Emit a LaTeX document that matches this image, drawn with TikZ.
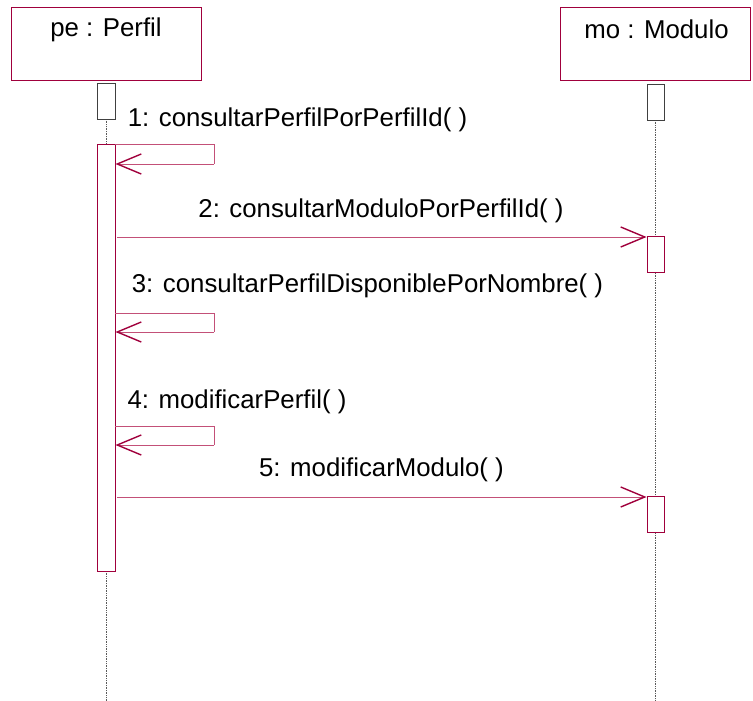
\documentclass[tikz,border=0pt]{standalone}
\usepackage{fontspec}
\setmainfont{Liberation Sans}
\usetikzlibrary{arrows.meta}
\definecolor{crim}{RGB}{160,0,60}
\definecolor{msgc}{RGB}{195,80,120}
\definecolor{life}{RGB}{90,90,90}
\begin{document}
\begin{tikzpicture}[x=1pt,y=-1pt,
  every node/.style={font=\fontsize{25.8pt}{30pt}\selectfont},
  obj/.style={draw=crim,line width=0.9pt,fill=white,inner sep=0pt,minimum width=190pt,minimum height=73pt},
  inact/.style={draw=black!75,line width=0.8pt,fill=white,inner sep=0pt,minimum width=18pt,minimum height=36pt},
  act/.style={draw=crim,line width=0.9pt,fill=white,inner sep=0pt,minimum width=18pt},
  lifeline/.style={draw=life,line width=0.7pt,densely dotted},
  msgline/.style={draw=msgc,line width=0.9pt},
  calltip/.style={-{Straight Barb[length=24pt,width=20pt,line width=1.4pt,color=crim]}},
  lbl/.style={anchor=base,inner sep=0pt,text=black}]
\useasboundingbox (0,0) rectangle (753,701);
% objects
\node[obj] (pe) at (106,43.5) {};
\node[lbl] (peT) at (106,36.7) {pe : Perfil};
\node[obj] (mo) at (655.5,44) {};
\node[lbl] (moT) at (656.5,39) {mo : Modulo};
% lifeline ends
\coordinate (peEnd) at (106,701);
\coordinate (moEnd) at (655.5,701);
% lifelines
\draw[lifeline] (106,119) -- (106,144);
\draw[lifeline] (106,571) -- (peEnd);
\draw[lifeline] (655.5,120) -- (moEnd);
% boxes
\node[inact] (pe0) at (106,101) {};
\node[act,minimum height=427pt] (peA) at (106,357.5) {};
\node[inact,minimum width=17pt] (mo0) at (655.5,102) {};
\node[act,minimum width=17pt,minimum height=36pt] (moA1) at (655.5,254) {};
\node[act,minimum width=17pt,minimum height=36pt] (moA2) at (655.5,514) {};
% message 1 (self)
\coordinate (r1) at (214,144.5);
\coordinate (b1) at (214,164);
\draw[msgline] (peA.north east |- r1) -- (r1) -- (b1);
\draw[msgline,calltip] (b1) -- (peA.east |- b1);
\node[lbl] (l1) at (297.5,127) {1: consultarPerfilPorPerfilId( )};
% message 2
\coordinate (m2) at (117,237);
\draw[msgline,calltip] (m2) -- (moA1.west |- m2);
\node[lbl] (l2) at (381,217) {2: consultarModuloPorPerfilId( )};
% message 3 (self)
\coordinate (r3) at (214,313);
\coordinate (b3) at (214,332);
\draw[msgline] (peA.east |- r3) -- (r3) -- (b3);
\draw[msgline,calltip] (b3) -- (peA.east |- b3);
\node[lbl] (l3) at (367.5,292) {3: consultarPerfilDisponiblePorNombre( )};
% message 4 (self)
\coordinate (r4) at (214,426);
\coordinate (b4) at (214,445);
\draw[msgline] (peA.east |- r4) -- (r4) -- (b4);
\draw[msgline,calltip] (b4) -- (peA.east |- b4);
\node[lbl] (l4) at (237,408) {4: modificarPerfil( )};
% message 5
\coordinate (m5) at (117,497);
\draw[msgline,calltip] (m5) -- (moA2.west |- m5);
\node[lbl] (l5) at (381.5,476) {5: modificarModulo( )};
\end{tikzpicture}
\end{document}
